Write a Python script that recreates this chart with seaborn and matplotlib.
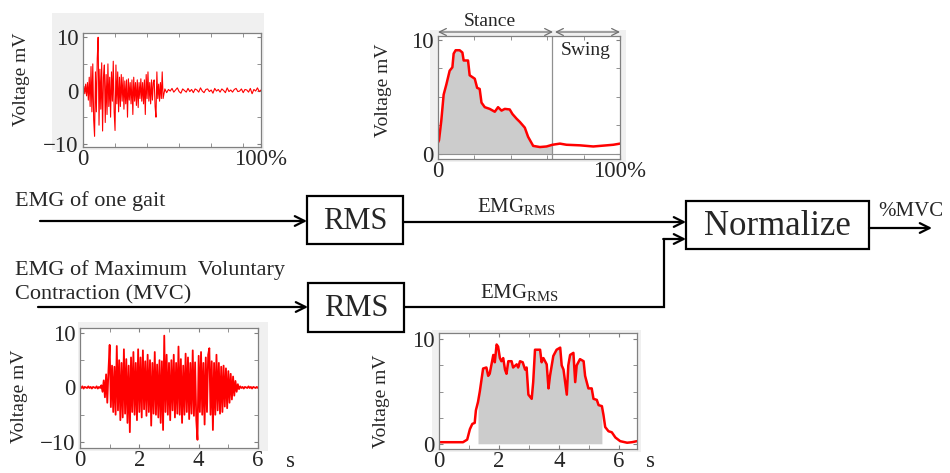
import numpy as np
import pandas as pd
import seaborn as sns
import matplotlib.pyplot as plt
from matplotlib.patches import Rectangle
from matplotlib.ticker import MultipleLocator

# raw EMG of one gait (% of gait cycle), burst part every 0.5 %, quiet part every 1 %
gait_raw_burst = [0, 0.8, -0.6, 1.2, -1.0, 1.5, -1.8, 2.5, -3.0, 4.5, -4.0, 5.0, -5.5, -8.6, 3.5, -4.0,
                  6.0, 10.0, -6.5, 4.0, -3.5, 5.2, -7.6, 2.5, 4.8, -6.0, 3.0, -4.5, 5.0, -3.0, 2.5, -5.0,
                  3.5, -2.0, 5.5, -4.0, -7.5, 4.8, -2.5, 3.5, -4.0, 2.5, -3.0, 3.0, -2.0, 2.5, -3.5, 1.8,
                  -2.5, 2.0, -5.0, 2.2, -1.8, 1.5, -2.5, 2.0, -4.5, 2.5, -2.0, 1.5, -2.8, 2.0, -3.2, 1.5,
                  -1.5, 2.2, -2.0, 1.5, -2.5, 2.0, -4.5, 3.0, -1.5, 3.5, -2.0, 1.5, -2.5, 2.0, -1.8, 1.5,
                  2.0, -3.0, -5.0, 3.5, -1.5, 1.2, -2.0, 1.5, -1.5, 3.5, -1.5]
gait_raw_quiet = [0.3, -0.4, 0.2, -0.1, 0.4, -0.3, 0.1, 0.5, -0.2, -0.5, 0.3, 0.0, -0.3, 0.4, -0.2,
                  0.2, -0.4, 0.3, 0.1, -0.3, 0.5, -0.1, -0.4, 0.2, 0.3, -0.2, 0.1, -0.5, 0.4, -0.1,
                  0.2, -0.3, 0.3, 0.0, -0.4, 0.5, -0.2, 0.1, -0.3, 0.2, 0.4, -0.2, -0.1, 0.3, -0.4,
                  0.2, 0.1, -0.3, 0.4, -0.6, 0.2, -0.1, 0.5, -0.2, 0.1]

# RMS of one gait
gait_rms_x = [0, 0.55, 1.8, 3.1, 4.6, 6.4, 7.9, 8.6, 9.7, 11.9, 13.4, 14.1, 16.5, 17.4, 20.2, 21.5,
              22.9, 23.9, 25.7, 28.4, 31.2, 33.0, 34.9, 36.7, 39.4, 40.9, 43.1, 45.0, 47.7, 49.5,
              52.3, 56.0, 59.6, 62.9, 67.0, 70.6, 78.0, 85.3, 92.7, 96.3, 100]
gait_rms_y = [1.0, 1.2, 2.9, 5.2, 6.1, 7.3, 7.6, 8.8, 9.1, 9.1, 8.9, 8.2, 8.2, 6.9, 6.6, 5.8,
              5.7, 4.5, 4.1, 3.95, 3.7, 4.1, 3.8, 3.95, 3.9, 3.5, 3.1, 2.8, 2.3, 1.5,
              0.7, 0.6, 0.65, 0.8, 0.9, 0.8, 0.75, 0.65, 0.75, 0.8, 0.9]
stance_end = 62.9

# raw EMG of MVC, every 0.04 s from 0 to 6 s
mvc_raw = [0.1, -0.1, 0.2, -0.2, 0.1, 0.0, -0.1, 0.2, -0.1, 0.1, -0.2, 0.1, 0.0, -0.1, 0.2, -0.2, 0.1, -0.1,
           0.4, -0.8, 1.3, -1.8, 2.4, -2.8, 3.2, 7.8, -3.6, 4.0, -4.5, 3.8, -5.0, 7.6, -4.2, 5.0,
           -6.0, 4.5, -5.5, 7.0, -4.8, 5.2, -6.5, 4.0, -8.2, 5.5, -4.5, 6.5, -5.0, 4.5, -6.0, 7.0,
           -4.5, 5.5, -5.5, 6.8, -4.0, 4.8, -5.2, 6.0, -4.5, 5.0, -7.0, 4.5, -4.8, 6.5, -5.0, 4.2,
           -5.5, 5.0, -6.5, 4.8, -7.8, 9.5, -4.5, 6.0, -5.0, 4.5, -6.0, 5.0, -4.2, 6.0, -5.5, 4.5,
           -4.8, 7.5, -5.0, 5.2, -6.5, 4.0, -5.0, 6.2, -4.5, 5.5, -5.8, 4.5, -4.8, 6.8, -5.2, 4.6,
           -6.0, -9.6, 5.8, -4.5, 6.5, -5.0, 4.5, -6.8, 5.5, -4.5, 6.0, 7.2, -5.0, 4.8, -7.8, 4.5,
           -5.0, 6.0, -4.2, 4.5, -4.8, 3.8, -4.5, 4.0, -3.5, 3.5, -3.8, 3.0, -2.8, 2.5, -2.2, 2.0,
           -1.5, 1.2, -0.8, 0.6, -0.3,
           0.2, -0.1, 0.1, -0.2, 0.1, 0.0, -0.1, 0.2, -0.1, 0.1, -0.2, 0.1, 0.0, -0.1, 0.1, -0.1]

# RMS of MVC (s, mV)
mvc_rms_t = [0, 0.8, 0.94, 1.03, 1.11, 1.19, 1.23, 1.30, 1.36, 1.42, 1.47, 1.58, 1.64, 1.69, 1.75,
             1.81, 1.86, 1.92, 1.97, 2.03, 2.08, 2.14, 2.20, 2.25, 2.31, 2.42, 2.47, 2.59, 2.64,
             2.70, 2.79, 2.87, 2.92, 2.98, 3.09, 3.14, 3.20, 3.37, 3.42, 3.48, 3.59, 3.65, 3.70,
             3.81, 3.92, 4.04, 4.09, 4.15, 4.26, 4.31, 4.37, 4.48, 4.54, 4.59, 4.70, 4.82, 4.87,
             4.98, 5.09, 5.15, 5.26, 5.32, 5.43, 5.48, 5.54, 5.65, 5.76, 5.88, 6.04, 6.27, 6.43, 6.6]
mvc_rms_v = [0.15, 0.15, 0.4, 1.4, 1.9, 2.0, 3.2, 4.0, 5.0, 6.2, 7.2, 7.3, 6.5, 6.7, 7.6,
             8.5, 7.8, 9.5, 9.3, 8.2, 7.9, 8.2, 7.1, 6.7, 7.9, 7.9, 7.3, 7.6, 7.3,
             7.9, 7.8, 7.1, 7.3, 4.7, 4.3, 5.9, 9.0, 9.0, 7.8, 8.2, 7.6, 5.3, 6.5,
             8.4, 9.0, 9.2, 7.5, 7.1, 4.7, 7.5, 8.5, 8.7, 5.9, 7.5, 8.1, 7.9, 6.5,
             5.3, 5.3, 4.3, 4.2, 3.7, 3.6, 2.8, 1.6, 1.2, 1.1, 0.6, 0.25, 0.1, 0.15, 0.25]
mvc_fill = (1.26, 5.43)

sns.set_style("white")
plt.rcParams['font.family'] = ['Liberation Serif', 'DejaVu Serif']
plt.rcParams['mathtext.fontset'] = 'custom'
plt.rcParams['mathtext.rm'] = 'Liberation Serif'

W, H = 950, 473
fig = plt.figure(figsize=(9.5, 4.73), dpi=100)

# overlay for the block diagram, in pixel units
ov = fig.add_axes([0, 0, 1, 1])
ov.set_xlim(0, W)
ov.set_ylim(H, 0)
ov.axis('off')

for x0, y0, x1, y1 in [(52, 13, 264, 150), (430, 30, 626, 162), (78, 322, 268, 451), (432, 330, 641, 452)]:
    ov.add_patch(Rectangle((x0, y0), x1 - x0, y1 - y0, color='#f0f0f0', lw=0))


def add_ax(l, t, r, b):
    ax = fig.add_axes([l / W, 1 - b / H, (r - l) / W, (b - t) / H])
    for s in ax.spines.values():
        s.set_visible(True)
        s.set_color('#808080')
        s.set_linewidth(0.9)
    ax.tick_params(which='both', direction='in', top=True, right=True, bottom=True, left=True,
                   color='#808080', labelsize=16.5)
    ax.tick_params(axis='x', pad=1.5)
    ax.tick_params(axis='y', pad=3)
    ax.tick_params(which='major', length=3)
    ax.tick_params(which='minor', length=3)
    ax.set_facecolor('white')
    return ax


arr = dict(arrowstyle='->,head_length=0.7,head_width=0.35', lw=1.6, color='black', shrinkA=0, shrinkB=0)

# --- raw gait EMG
ax1 = add_ax(83, 33, 261, 147)
gx = np.concatenate([np.linspace(0, 45, len(gait_raw_burst)), np.linspace(46, 100, len(gait_raw_quiet))])
df1 = pd.DataFrame({'x': gx, 'v': gait_raw_burst + gait_raw_quiet})
sns.lineplot(data=df1, x='x', y='v', ax=ax1, color='red', lw=0.8, estimator=None)
ax1.set_xlim(0, 100)
ax1.set_ylim(-10.6, 10.8)
ax1.set_xticks([0, 100], ['0', '100%'])
ax1.set_yticks([-10, 0, 10], ['\u221210', '0', '10'])
ax1.xaxis.set_minor_locator(MultipleLocator(18))
ax1.yaxis.set_minor_locator(MultipleLocator(5))
ax1.set_xlabel('')
ax1.set_ylabel('Voltage mV', fontsize=14)
ax1.yaxis.set_label_coords(-0.30, 0.59)

# --- RMS gait
ax2 = add_ax(438, 36, 620, 159)
df2 = pd.DataFrame({'x': gait_rms_x, 'v': gait_rms_y})
xs = np.array(gait_rms_x)
ax2.fill_between(xs, 0, gait_rms_y, where=xs <= stance_end, color='#cccccc', lw=0)
ax2.axhline(0, color='#909090', lw=0.8)
ax2.axvline(stance_end, color='#909090', lw=0.9)
sns.lineplot(data=df2, x='x', y='v', ax=ax2, color='red', lw=1.8, estimator=None)
ax2.set_xlim(0, 100)
ax2.set_ylim(-0.45, 10.35)
ax2.set_xticks([0, 100], ['0', '100%'])
ax2.set_yticks([0, 10])
ax2.xaxis.set_minor_locator(MultipleLocator(20))
ax2.yaxis.set_minor_locator(MultipleLocator(2.5))
ax2.set_xlabel('')
ax2.set_ylabel('Voltage mV', fontsize=14)
ax2.yaxis.set_label_coords(-0.25, 0.56)
ax2.text(0.813, 0.886, 'Swing', transform=ax2.transAxes, fontsize=14, ha='center', va='center')

# --- raw MVC EMG
ax3 = add_ax(80, 328, 258, 448)
df3 = pd.DataFrame({'t': np.linspace(0, 6, len(mvc_raw)), 'v': mvc_raw})
sns.lineplot(data=df3, x='t', y='v', ax=ax3, color='red', lw=1.3, estimator=None)
ax3.set_xlim(0, 6)
ax3.set_ylim(-11.1, 10.9)
ax3.set_xticks([0, 2, 4, 6])
ax3.set_yticks([-10, 0, 10], ['\u221210', '0', '10'])
ax3.xaxis.set_minor_locator(MultipleLocator(1))
ax3.yaxis.set_minor_locator(MultipleLocator(5))
ax3.set_xlabel('')
ax3.set_ylabel('Voltage mV', fontsize=14)
ax3.yaxis.set_label_coords(-0.29, 0.43)
ax3.text(1.18, -0.11, 's', transform=ax3.transAxes, fontsize=16.5, ha='center', va='center')

# --- RMS MVC
ax4 = add_ax(439, 333, 637, 449)
ts = np.array(mvc_rms_t)
ax4.fill_between(ts, 0, mvc_rms_v, where=(ts >= mvc_fill[0]) & (ts <= mvc_fill[1]), color='#cccccc', lw=0)
df4 = pd.DataFrame({'t': mvc_rms_t, 'v': mvc_rms_v})
sns.lineplot(data=df4, x='t', y='v', ax=ax4, color='red', lw=1.8, estimator=None)
ax4.set_xlim(0, 6.6)
ax4.set_ylim(-0.5, 10.6)
ax4.set_xticks([0, 2, 4, 6])
ax4.set_yticks([0, 10])
ax4.xaxis.set_minor_locator(MultipleLocator(1))
ax4.yaxis.set_minor_locator(MultipleLocator(2.5))
ax4.set_xlabel('')
ax4.set_ylabel('Voltage mV', fontsize=14)
ax4.yaxis.set_label_coords(-0.25, 0.41)
ax4.text(1.066, -0.11, 's', transform=ax4.transAxes, fontsize=16.5, ha='center', va='center')

# --- stance / swing markers
garr = dict(arrowstyle='<->,head_length=0.5,head_width=0.25', lw=0.9, color='#707070', shrinkA=0, shrinkB=0)
ov.annotate('', xy=(553, 32), xytext=(438, 32), arrowprops=garr)
ov.annotate('', xy=(620, 32), xytext=(555, 32), arrowprops=garr)
ov.text(490, 21, 'Stance', fontsize=14, ha='center', va='center')

# --- block diagram
ov.text(15, 206, 'EMG of one gait', fontsize=16, ha='left', va='baseline')
ov.text(15, 275, 'EMG of Maximum  Voluntary', fontsize=16, ha='left', va='baseline')
ov.text(15, 299, 'Contraction (MVC)', fontsize=16, ha='left', va='baseline')

ov.annotate('', xy=(307, 221), xytext=(40, 221), arrowprops=arr)
ov.annotate('', xy=(308, 307), xytext=(38, 307), arrowprops=arr)

for x0, y0, x1, y1 in [(307, 196, 403, 244), (308, 283, 404, 332), (686, 201, 869, 249)]:
    ov.add_patch(Rectangle((x0, y0), x1 - x0, y1 - y0, fill=False, lw=1.6, ec='black'))
ov.text(355, 221, 'RMS', fontsize=22, ha='center', va='center')
ov.text(356, 308, 'RMS', fontsize=22, ha='center', va='center')
ov.text(777, 226, 'Normalize', fontsize=25, ha='center', va='center')

ov.annotate('', xy=(686, 222), xytext=(403, 222), arrowprops=arr)
ov.plot([404, 664, 664], [307, 307, 239], color='black', lw=1.6, solid_joinstyle='miter')
ov.annotate('', xy=(686, 239), xytext=(663.2, 239), arrowprops=arr)
ov.annotate('', xy=(932, 228), xytext=(869, 228), arrowprops=arr)

ov.text(516, 212, r'EMG$_{\rm RMS}$', fontsize=15, ha='center', va='baseline')
ov.text(519, 298, r'EMG$_{\rm RMS}$', fontsize=15, ha='center', va='baseline')
ov.text(878, 216, '%MVC', fontsize=15, ha='left', va='baseline')

fig.savefig('out.png', dpi=100)
